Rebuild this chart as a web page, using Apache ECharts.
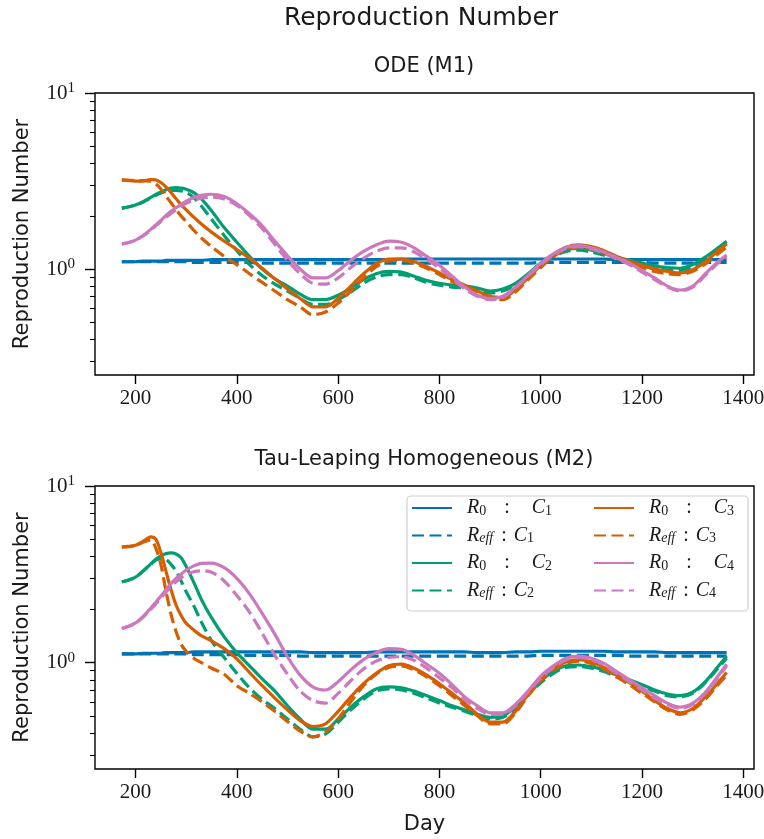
<!DOCTYPE html>
<html><head><meta charset="utf-8">
<script src="https://cdn.jsdelivr.net/npm/echarts@6/dist/echarts.min.js"></script>
<style>html,body{margin:0;padding:0;background:#fff}#c{width:764px;height:839px}</style>
</head><body><div id="c"></div>
<script>
// ---------- data ----------
const days = [173,185,200,215,230,240,250,260,270,280,290,300,315,330,350,
  375,400,425,450,475,500,525,550,575,600,625,650,675,700,725,750,775,800,825,850,
  875,900,925,950,975,1000,1025,1050,1075,1100,1125,1150,1175,1200,1225,1250,1275,1300,1325,1350,1367];

const xTicks = [200,400,600,800,1000,1200,1400];
const yMajorTicks = [1, 10];
const yMinorTicks = [0.3,0.4,0.5,0.6,0.7,0.8,0.9,2,3,4,5,6,7,8,9];

const panelTitles = ['ODE (M1)', 'Tau-Leaping Homogeneous (M2)'];
const caseNames = ['C1','C2','C3','C4'];
const caseColors = ['#0173b2','#029e73','#d55e00','#cc78bc'];

// ODE (M1)
const odeR0C1 = [1.10,1.10,1.10,1.11,1.11,1.11,1.11,1.12,1.12,1.12,1.12,1.12,1.12,1.12,1.13,
  1.13,1.13,1.13,1.13,1.13,1.13,1.13,1.13,1.13,1.13,1.13,1.13,1.13,1.13,1.14,1.14,1.14,1.14,1.14,1.14,
  1.14,1.14,1.14,1.14,1.14,1.14,1.14,1.14,1.14,1.14,1.14,1.13,1.13,1.13,1.13,1.13,1.13,1.13,1.13,1.13,1.13];
const odeReC1 = [1.10,1.10,1.10,1.10,1.10,1.10,1.10,1.10,1.10,1.10,1.10,1.10,1.09,1.09,1.09,
  1.09,1.09,1.09,1.08,1.08,1.08,1.08,1.08,1.08,1.08,1.08,1.08,1.08,1.08,1.08,1.08,1.08,1.08,1.08,1.08,
  1.08,1.08,1.08,1.08,1.08,1.09,1.09,1.09,1.09,1.09,1.09,1.09,1.09,1.09,1.08,1.08,1.08,1.08,1.09,1.09,1.09];
const odeR0C2 = [2.22,2.25,2.31,2.41,2.55,2.65,2.74,2.82,2.88,2.90,2.88,2.84,2.72,2.50,2.14,
  1.72,1.42,1.18,1.00,0.88,0.80,0.72,0.67,0.67,0.71,0.78,0.87,0.94,0.97,0.96,0.91,0.86,0.83,0.81,0.80,
  0.78,0.75,0.77,0.83,0.94,1.08,1.21,1.29,1.31,1.28,1.23,1.17,1.12,1.08,1.04,1.02,1.01,1.06,1.17,1.32,1.44];
const odeReC2 = [2.22,2.25,2.31,2.40,2.53,2.62,2.70,2.76,2.80,2.80,2.78,2.72,2.55,2.28,1.92,
  1.55,1.27,1.06,0.92,0.82,0.75,0.68,0.63,0.63,0.67,0.74,0.83,0.90,0.93,0.93,0.89,0.84,0.81,0.79,0.78,
  0.76,0.73,0.75,0.81,0.92,1.05,1.18,1.26,1.28,1.25,1.20,1.14,1.09,1.05,1.01,0.99,0.98,1.03,1.14,1.29,1.40];
const odeR0C3 = [3.22,3.19,3.16,3.17,3.22,3.21,3.10,2.93,2.72,2.51,2.32,2.17,1.97,1.80,1.62,
  1.44,1.29,1.15,1.01,0.88,0.77,0.68,0.61,0.61,0.68,0.80,0.94,1.07,1.14,1.14,1.10,1.03,0.95,0.87,0.81,
  0.75,0.70,0.69,0.76,0.89,1.05,1.21,1.33,1.37,1.34,1.27,1.18,1.11,1.05,1.00,0.97,0.95,0.99,1.10,1.27,1.39];
const odeReC3 = [3.20,3.19,3.18,3.17,3.16,3.05,2.85,2.60,2.38,2.18,2.00,1.86,1.66,1.50,1.34,
  1.18,1.06,0.94,0.84,0.75,0.67,0.61,0.55,0.57,0.64,0.75,0.89,1.03,1.11,1.12,1.08,1.01,0.93,0.85,0.79,
  0.73,0.68,0.67,0.74,0.87,1.02,1.18,1.29,1.33,1.30,1.23,1.15,1.08,1.02,0.97,0.94,0.93,0.97,1.07,1.22,1.33];
const odeR0C4 = [1.39,1.41,1.46,1.55,1.68,1.78,1.89,2.01,2.13,2.23,2.33,2.43,2.55,2.62,2.66,
  2.58,2.35,2.06,1.76,1.44,1.19,1.00,0.89,0.89,0.98,1.12,1.26,1.37,1.44,1.42,1.32,1.18,1.05,0.91,0.79,
  0.71,0.68,0.70,0.79,0.92,1.08,1.22,1.33,1.36,1.32,1.25,1.16,1.08,0.98,0.89,0.80,0.76,0.80,0.94,1.10,1.20];
const odeReC4 = [1.39,1.41,1.46,1.54,1.66,1.76,1.86,1.97,2.07,2.17,2.27,2.36,2.46,2.53,2.56,
  2.50,2.30,2.01,1.70,1.38,1.12,0.94,0.83,0.82,0.89,1.02,1.15,1.26,1.32,1.32,1.25,1.13,1.01,0.88,0.77,
  0.70,0.67,0.69,0.78,0.91,1.06,1.20,1.31,1.34,1.30,1.23,1.14,1.06,0.96,0.87,0.79,0.75,0.79,0.92,1.08,1.17];

// Tau-Leaping Homogeneous (M2)
const tauR0C1 = [1.12,1.12,1.12,1.13,1.13,1.13,1.13,1.14,1.14,1.14,1.14,1.14,1.15,1.15,1.15,
  1.15,1.15,1.15,1.15,1.15,1.15,1.15,1.14,1.14,1.14,1.14,1.14,1.15,1.15,1.15,1.15,1.15,1.15,1.15,1.15,
  1.14,1.14,1.14,1.15,1.15,1.16,1.16,1.16,1.16,1.16,1.16,1.15,1.15,1.15,1.15,1.14,1.14,1.14,1.14,1.14,1.14];
const tauReC1 = [1.12,1.12,1.12,1.12,1.12,1.12,1.12,1.12,1.12,1.12,1.12,1.12,1.11,1.11,1.11,
  1.11,1.11,1.10,1.10,1.10,1.10,1.09,1.09,1.09,1.09,1.09,1.09,1.09,1.09,1.09,1.09,1.09,1.09,1.09,1.09,
  1.09,1.09,1.09,1.09,1.09,1.10,1.10,1.10,1.10,1.10,1.10,1.10,1.09,1.09,1.09,1.09,1.09,1.09,1.09,1.09,1.09];
const tauR0C2 = [2.87,2.93,3.05,3.30,3.62,3.85,4.02,4.14,4.18,4.12,3.92,3.50,2.85,2.28,1.80,
  1.40,1.14,0.96,0.81,0.69,0.57,0.48,0.42,0.42,0.48,0.56,0.64,0.71,0.73,0.72,0.69,0.65,0.61,0.57,0.54,
  0.51,0.49,0.50,0.56,0.67,0.79,0.89,0.96,0.97,0.95,0.91,0.85,0.80,0.75,0.70,0.665,0.65,0.68,0.78,0.95,1.09];
const tauReC2 = [2.87,2.93,3.05,3.30,3.60,3.80,3.88,3.84,3.60,3.30,2.90,2.52,2.10,1.70,1.33,
  1.07,0.87,0.72,0.62,0.55,0.48,0.42,0.38,0.395,0.46,0.54,0.62,0.69,0.71,0.70,0.67,0.63,0.59,0.56,0.53,
  0.50,0.48,0.49,0.55,0.66,0.77,0.87,0.94,0.95,0.93,0.89,0.83,0.78,0.73,0.69,0.65,0.64,0.67,0.77,0.93,1.06];
const tauR0C3 = [4.53,4.55,4.62,4.85,5.15,5.00,4.20,3.30,2.60,2.12,1.85,1.67,1.53,1.42,1.33,
  1.20,1.05,0.88,0.74,0.63,0.54,0.47,0.435,0.45,0.53,0.64,0.76,0.87,0.96,0.98,0.93,0.85,0.76,0.67,0.59,
  0.51,0.46,0.46,0.53,0.66,0.81,0.93,1.01,1.04,1.01,0.94,0.85,0.77,0.69,0.61,0.55,0.52,0.55,0.64,0.77,0.88];
const tauReC3 = [4.50,4.53,4.60,4.80,4.95,4.45,3.60,2.55,1.88,1.50,1.27,1.16,1.06,1.00,0.93,
  0.86,0.74,0.67,0.60,0.53,0.465,0.41,0.38,0.405,0.48,0.60,0.74,0.86,0.94,0.96,0.91,0.83,0.74,0.65,0.57,
  0.50,0.45,0.45,0.52,0.65,0.79,0.91,0.99,1.02,0.99,0.92,0.83,0.75,0.67,0.60,0.54,0.51,0.54,0.62,0.75,0.85];
const tauR0C4 = [1.56,1.60,1.68,1.83,2.03,2.20,2.38,2.58,2.80,3.00,3.17,3.34,3.53,3.65,3.66,
  3.45,3.00,2.45,1.90,1.45,1.08,0.85,0.73,0.70,0.78,0.91,1.04,1.14,1.20,1.19,1.10,0.98,0.87,0.75,0.64,
  0.57,0.52,0.52,0.58,0.69,0.84,0.96,1.06,1.09,1.06,0.99,0.89,0.80,0.72,0.65,0.59,0.56,0.59,0.68,0.84,0.98];
const tauReC4 = [1.56,1.60,1.67,1.81,2.00,2.15,2.32,2.50,2.70,2.87,3.02,3.15,3.27,3.31,3.25,
  2.90,2.40,1.93,1.47,1.10,0.86,0.69,0.61,0.59,0.67,0.79,0.92,1.02,1.07,1.08,1.03,0.93,0.82,0.72,0.62,
  0.55,0.51,0.51,0.57,0.68,0.82,0.94,1.04,1.07,1.04,0.97,0.87,0.78,0.70,0.63,0.58,0.55,0.58,0.67,0.82,0.96];

const panels = [
  { r0: [odeR0C1, odeR0C2, odeR0C3, odeR0C4], re: [odeReC1, odeReC2, odeReC3, odeReC4] },
  { r0: [tauR0C1, tauR0C2, tauR0C3, tauR0C4], re: [tauReC1, tauReC2, tauReC3, tauReC4] }
];

// ---------- layout ----------
const gridBoxes = [
  { left: 95, top: 93, width: 659, height: 282 },
  { left: 95, top: 486, width: 659, height: 283 }
];
const FONT_SANS = 'DejaVu Sans';
const FONT_SERIF = 'Liberation Serif';
const TXT = '#1a1a1a';
const yLo = 0.25, yHi = 10;

const chart = echarts.init(document.getElementById('c'), null, { renderer: 'canvas' });

const grids = [], xAxes = [], yAxes = [], series = [];
gridBoxes.forEach((g, p) => {
  grids.push(Object.assign({ show: true, borderColor: '#000', borderWidth: 1.4,
    backgroundColor: 'transparent', containLabel: false, outerBoundsMode: 'none' }, g));
  xAxes.push({
    type: 'value', gridIndex: p, min: 120, max: 1421, position: 'bottom',
    axisLine: { show: false, onZero: false },
    axisTick: { show: true, customValues: xTicks, length: 9, lineStyle: { color: '#000', width: 1.4 } },
    axisLabel: { show: true, customValues: xTicks, margin: 13, fontFamily: FONT_SERIF, fontSize: 21, color: TXT,
      formatter: v => String(v), hideOverlap: false, showMaxLabel: true, showMinLabel: true },
    splitLine: { show: false },
    name: p === 1 ? 'Day' : '', nameLocation: 'middle', nameGap: 45,
    nameTextStyle: { fontFamily: FONT_SANS, fontSize: 21, color: TXT }
  });
  // data axis (log)
  yAxes.push({
    type: 'log', logBase: 10, gridIndex: p, min: yLo, max: yHi, position: 'left',
    axisLine: { show: false, onZero: false }, axisTick: { show: false }, axisLabel: { show: false }, splitLine: { show: false },
    name: 'Reproduction Number', nameLocation: 'middle', nameGap: 62,
    nameTextStyle: { fontFamily: FONT_SANS, fontSize: 21, color: TXT }
  });
  // major ticks overlay (log10 space)
  yAxes.push({
    type: 'value', gridIndex: p, min: Math.log10(yLo), max: Math.log10(yHi), position: 'left',
    axisLine: { show: false, onZero: false }, splitLine: { show: false },
    axisTick: { show: true, customValues: yMajorTicks.map(Math.log10), length: 10, lineStyle: { color: '#000', width: 1.4 } },
    axisLabel: {
      show: true, customValues: yMajorTicks.map(Math.log10), margin: 20,
      formatter: v => '{b|10}{s|' + Math.round(v) + '}',
      rich: {
        b: { fontFamily: FONT_SERIF, fontSize: 21, color: TXT, lineHeight: 24 },
        s: { fontFamily: FONT_SERIF, fontSize: 15, color: TXT, verticalAlign: 'top' }
      }
    }
  });
  // minor ticks overlay
  yAxes.push({
    type: 'value', gridIndex: p, min: Math.log10(yLo), max: Math.log10(yHi), position: 'left',
    axisLine: { show: false, onZero: false }, splitLine: { show: false }, axisLabel: { show: false },
    axisTick: { show: true, customValues: yMinorTicks.map(Math.log10), length: 5, lineStyle: { color: '#000', width: 1.1 } }
  });

  const pd = panels[p];
  for (let k = 0; k < 4; k++) {
    [['R0', pd.r0[k], 'solid'], ['Reff', pd.re[k], [12, 5.5]]].forEach(([kind, arr, dash]) => {
      series.push({
        type: 'line', name: kind + ':' + caseNames[k], xAxisIndex: p, yAxisIndex: p * 3,
        data: days.map((d, i) => [d, arr[i]]),
        symbol: 'none', showSymbol: false, smooth: 0.3, silent: true,
        itemStyle: { color: caseColors[k] },
        lineStyle: { color: caseColors[k], width: 3.2, type: dash },
        z: 2
      });
    });
  }
});

const legendRich = {
  i: { fontFamily: FONT_SERIF, fontStyle: 'italic', fontSize: 20, color: TXT, lineHeight: 20 },
  sb: { fontFamily: FONT_SERIF, fontSize: 14, color: TXT, verticalAlign: 'bottom' },
  se: { fontFamily: FONT_SERIF, fontStyle: 'italic', fontSize: 14, color: TXT, verticalAlign: 'bottom' },
  c0: { fontFamily: FONT_SERIF, fontSize: 20, color: TXT, lineHeight: 20, padding: [0, 22, 0, 18] },
  c1: { fontFamily: FONT_SERIF, fontSize: 20, color: TXT, lineHeight: 20, padding: [0, 7, 0, 8] }
};
function legendFmt(name) {
  const [kind, c] = name.split(':');
  const n = c.slice(1);
  if (kind === 'R0') return '{i|R}{sb|0}{c0|:}{i|C}{sb|' + n + '}';
  return '{i|R}{se|eff}{c1|:}{i|C}{sb|' + n + '}';
}
const legendCommon = {
  orient: 'vertical', top: 498, itemWidth: 40, itemHeight: 14, itemGap: 7.5,
  formatter: legendFmt, selectedMode: false, padding: 0,
  itemStyle: { opacity: 0, borderWidth: 0 },
  textStyle: { rich: legendRich, padding: [0, 0, 0, 10] }
};

chart.setOption({
  animation: false,
  backgroundColor: '#fff',
  title: [
    { text: 'Reproduction Number', left: 421, top: 6, textAlign: 'center', padding: 0,
      textStyle: { fontFamily: FONT_SANS, fontSize: 25, fontWeight: 'normal', color: TXT } },
    { text: panelTitles[0], left: 424, top: 56, textAlign: 'center', padding: 0,
      textStyle: { fontFamily: FONT_SANS, fontSize: 21, fontWeight: 'normal', color: TXT } },
    { text: panelTitles[1], left: 424, top: 449, textAlign: 'center', padding: 0,
      textStyle: { fontFamily: FONT_SANS, fontSize: 21, fontWeight: 'normal', color: TXT } }
  ],
  graphic: [{
    type: 'rect', z: 3, silent: true,
    shape: { x: 407, y: 496, width: 341, height: 115, r: 4 },
    style: { fill: 'rgba(255,255,255,0.85)', stroke: '#d0d0d0', lineWidth: 1.2 }
  }],
  legend: [
    Object.assign({ left: 411, data: ['R0:C1', 'Reff:C1', 'R0:C2', 'Reff:C2'] }, legendCommon),
    Object.assign({ left: 593, data: ['R0:C3', 'Reff:C3', 'R0:C4', 'Reff:C4'] }, legendCommon)
  ],
  grid: grids, xAxis: xAxes, yAxis: yAxes, series: series
});
</script></body></html>
